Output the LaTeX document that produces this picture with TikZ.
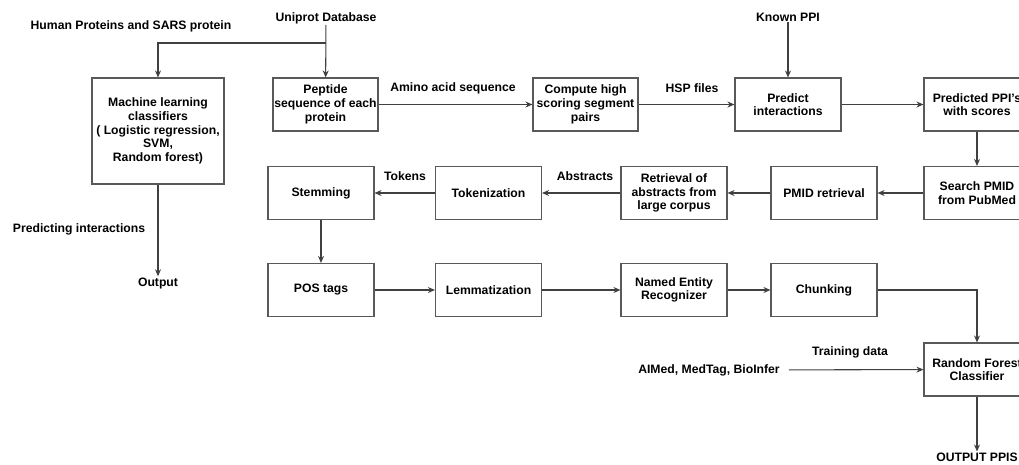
\documentclass[tikz,border=0pt]{standalone}
\usepackage{fontspec}
\setmainfont{Liberation Sans}
\usetikzlibrary{arrows.meta}

\begin{document}
\begin{tikzpicture}[x=1pt, y=-1pt,
        box/.style={draw=black!65, line width=1.1pt, minimum width=106pt, minimum height=53pt,
            align=center, inner sep=1pt, font=\fontsize{12.2}{13.7}\selectfont\bfseries},
        lbl/.style={inner sep=1pt, font=\fontsize{12.2}{13.7}\selectfont\bfseries},
        arr/.style={draw=black!75, line width=1.05pt, -{Stealth[length=7pt,width=6pt]}}]
        % frame
        \useasboundingbox (0,0) rectangle (1019,464);
        \clip (0,0) rectangle (1019,464);

        % first row
        \node[box, minimum width=132pt, minimum height=106pt] (ml) at (158,131)
            {Machine learning\\classifiers\\( Logistic regression,\\SVM,\\Random forest)};
        \node[box, minimum width=105pt] (pep) at (325.5,104.5) {Peptide\\sequence of each\\protein};
        \node[box, minimum width=105pt] (hsp) at (585.5,104.5) {Compute high\\scoring segment\\pairs};
        \node[box] (pred) at (788,104.5) {Predict\\interactions};
        \node[box] (ppis) at (977,104.5) {Predicted PPI's\\with scores};

        % second row
        \node[box] (search) at (977,193) {Search PMID\\from PubMed};
        \node[box] (pmid) at (824,193) {PMID retrieval};
        \node[box] (retr) at (674,193) {Retrieval of\\abstracts from\\large corpus};
        \node[box] (tok) at (488.5,193) {Tokenization};
        \node[box] (stem) at (321,193) {Stemming};

        % third row
        \node[box] (pos) at (321,290) {POS tags};
        \node[box] (lem) at (488.5,290) {Lemmatization};
        \node[box] (ner) at (674,290) {Named Entity\\Recognizer};
        \node[box] (chunk) at (824,290) {Chunking};
        \node[box] (rf) at (977,369.5) {Random Forest\\Classifier};

        % texts
        \node[lbl] (human) at (131,26) {Human Proteins and SARS protein};
        \node[lbl] (uniprot) at (326,18) {Uniprot Database};
        \node[lbl] (known) at (788,17) {Known PPI};
        \node[lbl] (amino) at (453,88) {Amino acid sequence};
        \node[lbl] (hspfiles) at (692,88) {HSP files};
        \node[lbl] (tokens) at (405,176) {Tokens};
        \node[lbl] (abstracts) at (585,176) {Abstracts};
        \node[lbl] (training) at (850,352) {Training data};
        \node[lbl] (aimed) at (709,370) {AIMed, MedTag, BioInfer};
        \node[lbl] (predicting) at (79,229) {Predicting interactions};
        \node[lbl] (output) at (158,283) {Output};
        \node[lbl] (outppis) at (977,457) {OUTPUT PPIS};

        % connectors
        \coordinate (split) at (326,43);
        \draw[arr] (uniprot) -- (pep);
        \draw[arr] (split) -| (ml);
        \draw[arr] (ml) -- (output);
        \draw[arr] (pep) -- (hsp);
        \draw[arr] (hsp) -- (pred);
        \draw[arr] (known) -- (pred);
        \draw[arr] (pred) -- (ppis);
        \draw[arr] (ppis) -- (search);
        \draw[arr] (search) -- (pmid);
        \draw[arr] (pmid) -- (retr);
        \draw[arr] (retr) -- (tok);
        \draw[arr] (tok) -- (stem);
        \draw[arr] (stem) -- (pos);
        \draw[arr] (pos) -- (lem);
        \draw[arr] (lem) -- (ner);
        \draw[arr] (ner) -- (chunk);
        \draw[arr] (chunk) -| (rf);
        \draw[arr, shorten <=8pt] (aimed) -- (rf);
        \draw[arr] (rf) -- (outppis);
\end{tikzpicture}
\end{document}
